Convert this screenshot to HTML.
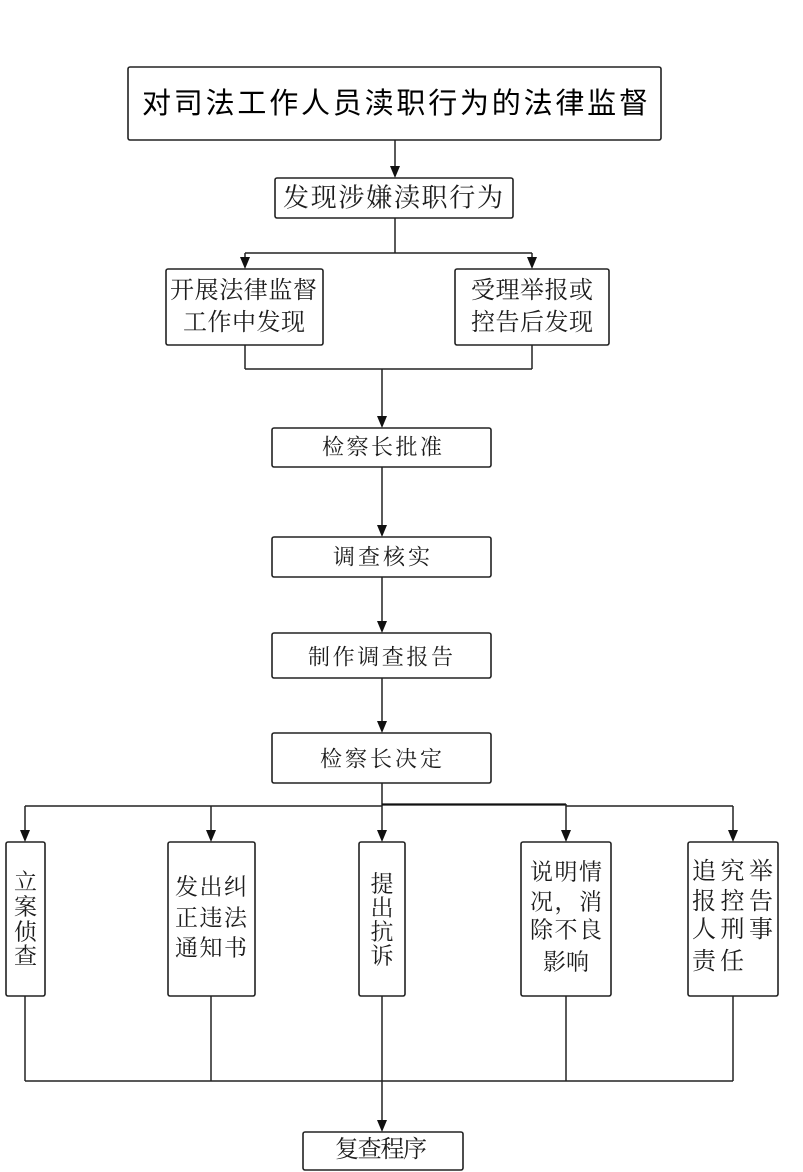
<!DOCTYPE html>
<html>
<head>
<meta charset="utf-8">
<style>
  html, body { margin: 0; padding: 0; background: #ffffff; }
  body { width: 803px; height: 1172px; overflow: hidden; }
  svg { display: block; }
  .box { fill: #ffffff; stroke: #222222; stroke-width: 1.6; }
  .ln { stroke: #222222; stroke-width: 1.5; fill: none; }
  .ah { fill: #111111; }
  .t { font-family: "Liberation Serif", "Noto Serif CJK SC", "Noto Serif SC", "Noto Serif CJK JP", "Noto Serif CJK", serif; fill: #1c1c1c; dominant-baseline: central; }
  .title { font-family: "Liberation Sans", "WenQuanYi Zen Hei", "Noto Sans CJK SC", sans-serif; fill: #000; dominant-baseline: central; }
</style>
</head>
<body>
<svg width="803" height="1172" viewBox="0 0 803 1172" xmlns="http://www.w3.org/2000/svg">
  <!-- Title -->
  <rect class="box" x="128" y="67" width="533" height="73" rx="2"/>
  <text class="title" x="142" y="104" font-size="29" textLength="506" lengthAdjust="spacing">对司法工作人员渎职行为的法律监督</text>

  <line class="ln" x1="395" y1="140" x2="395" y2="168"/>
  <polygon class="ah" points="390,166 400,166 395,178"/>

  <!-- 发现涉嫌渎职行为 -->
  <rect class="box" x="275" y="178" width="238" height="40" rx="2"/>
  <text class="t" x="283" y="198" font-size="26" textLength="220" lengthAdjust="spacing">发现涉嫌渎职行为</text>

  <line class="ln" x1="395" y1="218" x2="395" y2="253"/>
  <line class="ln" x1="245" y1="253" x2="532" y2="253"/>
  <line class="ln" x1="245" y1="253" x2="245" y2="260"/>
  <line class="ln" x1="532" y1="253" x2="532" y2="260"/>
  <polygon class="ah" points="240,257 250,257 245,269"/>
  <polygon class="ah" points="527,257 537,257 532,269"/>

  <!-- Left / right discovery boxes -->
  <rect class="box" x="166" y="269" width="157" height="76" rx="2"/>
  <text class="t" x="170" y="291" font-size="24" textLength="147" lengthAdjust="spacing">开展法律监督</text>
  <text class="t" x="183" y="323" font-size="24" textLength="122" lengthAdjust="spacing">工作中发现</text>

  <rect class="box" x="455" y="269" width="154" height="76" rx="2"/>
  <text class="t" x="471" y="291" font-size="24" textLength="122" lengthAdjust="spacing">受理举报或</text>
  <text class="t" x="471" y="323" font-size="24" textLength="122" lengthAdjust="spacing">控告后发现</text>

  <line class="ln" x1="245" y1="345" x2="245" y2="369"/>
  <line class="ln" x1="532" y1="345" x2="532" y2="369"/>
  <line class="ln" x1="245" y1="369" x2="532" y2="369"/>
  <line class="ln" x1="382" y1="369" x2="382" y2="418"/>
  <polygon class="ah" points="377,416 387,416 382,428"/>

  <!-- 检察长批准 -->
  <rect class="box" x="272" y="428" width="219" height="39" rx="2"/>
  <text class="t" x="322" y="447" font-size="22" textLength="120" lengthAdjust="spacing">检察长批准</text>

  <line class="ln" x1="382" y1="467" x2="382" y2="527"/>
  <polygon class="ah" points="377,525 387,525 382,537"/>

  <!-- 调查核实 -->
  <rect class="box" x="272" y="537" width="219" height="40" rx="2"/>
  <text class="t" x="333" y="557" font-size="22" textLength="97" lengthAdjust="spacing">调查核实</text>

  <line class="ln" x1="382" y1="577" x2="382" y2="623"/>
  <polygon class="ah" points="377,621 387,621 382,633"/>

  <!-- 制作调查报告 -->
  <rect class="box" x="272" y="633" width="219" height="45" rx="2"/>
  <text class="t" x="308" y="657" font-size="22" textLength="145" lengthAdjust="spacing">制作调查报告</text>

  <line class="ln" x1="382" y1="678" x2="382" y2="723"/>
  <polygon class="ah" points="377,721 387,721 382,733"/>

  <!-- 检察长决定 -->
  <rect class="box" x="272" y="733" width="219" height="50" rx="2"/>
  <text class="t" x="320" y="759" font-size="22" textLength="122" lengthAdjust="spacing">检察长决定</text>

  <!-- Branch -->
  <line class="ln" x1="382" y1="783" x2="382" y2="806"/>
  <line class="ln" x1="25" y1="806" x2="382" y2="806"/>
  <line x1="382" y1="804.5" x2="566" y2="804.5" stroke="#111" stroke-width="2.2"/>
  <line class="ln" x1="566" y1="806" x2="733" y2="806"/>
  <line class="ln" x1="25" y1="806" x2="25" y2="832"/>
  <line class="ln" x1="211" y1="806" x2="211" y2="832"/>
  <line class="ln" x1="382" y1="806" x2="382" y2="832"/>
  <line class="ln" x1="566" y1="804" x2="566" y2="832"/>
  <line class="ln" x1="733" y1="806" x2="733" y2="832"/>
  <polygon class="ah" points="20,830 30,830 25,842"/>
  <polygon class="ah" points="206,830 216,830 211,842"/>
  <polygon class="ah" points="377,830 387,830 382,842"/>
  <polygon class="ah" points="561,830 571,830 566,842"/>
  <polygon class="ah" points="728,830 738,830 733,842"/>

  <!-- Outcome boxes -->
  <rect class="box" x="6" y="842" width="39" height="154" rx="2"/>
  <text class="t" x="25.5" y="882" font-size="23" text-anchor="middle">立</text>
  <text class="t" x="25.5" y="907" font-size="23" text-anchor="middle">案</text>
  <text class="t" x="25.5" y="932" font-size="23" text-anchor="middle">侦</text>
  <text class="t" x="25.5" y="956" font-size="23" text-anchor="middle">查</text>

  <rect class="box" x="168" y="842" width="87" height="154" rx="2"/>
  <text class="t" x="175" y="887" font-size="23" textLength="72" lengthAdjust="spacing">发出纠</text>
  <text class="t" x="175" y="918" font-size="23" textLength="72" lengthAdjust="spacing">正违法</text>
  <text class="t" x="175" y="948" font-size="23" textLength="72" lengthAdjust="spacing">通知书</text>

  <rect class="box" x="359" y="842" width="46" height="154" rx="2"/>
  <text class="t" x="382" y="884" font-size="23" text-anchor="middle">提</text>
  <text class="t" x="382" y="908" font-size="23" text-anchor="middle">出</text>
  <text class="t" x="382" y="932" font-size="23" text-anchor="middle">抗</text>
  <text class="t" x="382" y="956" font-size="23" text-anchor="middle">诉</text>

  <rect class="box" x="521" y="842" width="90" height="154" rx="2"/>
  <text class="t" x="530" y="872" font-size="23" textLength="72" lengthAdjust="spacing">说明情</text>
  <text class="t" x="530" y="902" font-size="23" textLength="72" lengthAdjust="spacing">况，消</text>
  <text class="t" x="530" y="930" font-size="23" textLength="72" lengthAdjust="spacing">除不良</text>
  <text class="t" x="543" y="962" font-size="23" textLength="46" lengthAdjust="spacing">影响</text>

  <rect class="box" x="688" y="842" width="90" height="154" rx="2"/>
  <text class="t" x="692" y="872" font-size="24" textLength="81" lengthAdjust="spacing">追究举</text>
  <text class="t" x="692" y="902" font-size="24" textLength="81" lengthAdjust="spacing">报控告</text>
  <text class="t" x="692" y="930" font-size="24" textLength="81" lengthAdjust="spacing">人刑事</text>
  <text class="t" x="692" y="962" font-size="24" textLength="52" lengthAdjust="spacing">责任</text>

  <!-- Merge to review -->
  <line class="ln" x1="25" y1="996" x2="25" y2="1081"/>
  <line class="ln" x1="211" y1="996" x2="211" y2="1081"/>
  <line class="ln" x1="382" y1="996" x2="382" y2="1081"/>
  <line class="ln" x1="566" y1="996" x2="566" y2="1081"/>
  <line class="ln" x1="733" y1="996" x2="733" y2="1081"/>
  <line class="ln" x1="25" y1="1081" x2="733" y2="1081"/>
  <line class="ln" x1="382" y1="1081" x2="382" y2="1122"/>
  <polygon class="ah" points="377,1120 387,1120 382,1132"/>

  <!-- 复查程序 -->
  <rect class="box" x="303" y="1132" width="160" height="38" rx="2"/>
  <text class="t" x="335" y="1150" font-size="24" textLength="92" lengthAdjust="spacing">复查程序</text>
</svg>
</body>
</html>
